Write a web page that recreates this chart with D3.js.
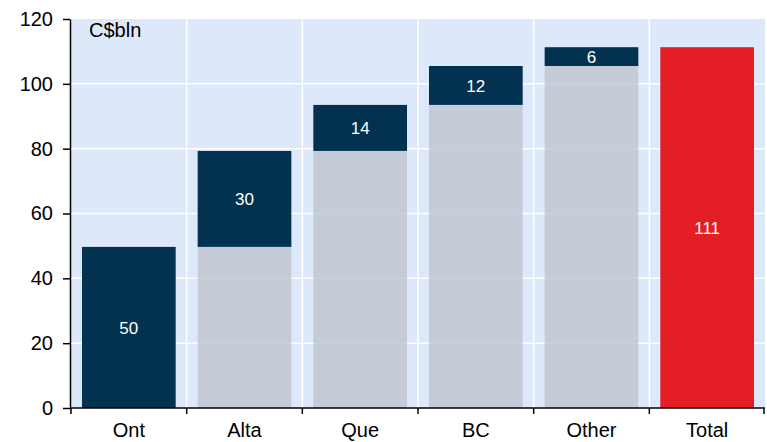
<!DOCTYPE html>
<html>
<head>
<meta charset="utf-8">
<script src="https://cdn.jsdelivr.net/npm/d3@7"></script>
<style>
  body { margin: 0; background: #fff; }
  svg { font-family: "Liberation Sans", Arial, sans-serif; }
</style>
</head>
<body>
<svg id="chart"></svg>
<script>
//Chart data
var categories = ["Ont", "Alta", "Que", "BC", "Other", "Total"];
var increments = [49.7, 29.6, 14.2, 12.0, 5.8];
var totalValue = 111.3;
var yTicks = [0, 20, 40, 60, 80, 100, 120];
var unitLabel = "C$bln";

//Dimensions
var dimensions = {
    width: 767,
    height: 442,
    margin: { top: 19, right: 2, bottom: 34, left: 71 }
};

var svg = d3.select("#chart")
    .attr("width", dimensions.width)
    .attr("height", dimensions.height);

//Scales
var xScale = d3.scaleBand()
    .domain(categories)
    .range([dimensions.margin.left, dimensions.width - dimensions.margin.right])
    .paddingInner(0.19)
    .paddingOuter(0.095);

var yScale = d3.scaleLinear()
    .domain([0, 120])
    .range([dimensions.height - dimensions.margin.bottom, dimensions.margin.top]);

var x0 = dimensions.margin.left;
var x1 = dimensions.width - dimensions.margin.right;

//Background
svg.append("rect")
    .attr("x", x0)
    .attr("y", yScale(120))
    .attr("width", x1 - x0)
    .attr("height", yScale(0) - yScale(120))
    .attr("fill", "#dde9fa");

//Horizontal gridlines
svg.append("g").selectAll("line")
    .data(yTicks.slice(1, -1))
    .join("line")
    .attr("x1", x0)
    .attr("x2", x1)
    .attr("y1", function(d){ return yScale(d); })
    .attr("y2", function(d){ return yScale(d); })
    .attr("stroke", "#fff")
    .attr("stroke-width", 1.5);

//Vertical gridlines at category boundaries
var boundaries = categories.slice(1).map(function(c){
    return xScale(c) - xScale.step() * xScale.paddingInner() / 2;
});
svg.append("g").selectAll("line")
    .data(boundaries)
    .join("line")
    .attr("x1", function(d){ return d; })
    .attr("x2", function(d){ return d; })
    .attr("y1", yScale(0))
    .attr("y2", yScale(120))
    .attr("stroke", "#fff")
    .attr("stroke-width", 1.5);

//Build waterfall segments
var segments = [];
var running = 0;
increments.forEach(function(v, i){
    segments.push({ cat: categories[i], base: running, value: v });
    running += v;
});

//Grey base bars
svg.append("g").selectAll("rect")
    .data(segments.filter(function(d){ return d.base > 0; }))
    .join("rect")
    .attr("x", function(d){ return xScale(d.cat); })
    .attr("width", xScale.bandwidth())
    .attr("y", function(d){ return yScale(d.base); })
    .attr("height", function(d){ return yScale(0) - yScale(d.base); })
    .attr("fill", "#c0c6d0")
    .attr("fill-opacity", 0.82);

//Navy increment bars
svg.append("g").selectAll("rect")
    .data(segments)
    .join("rect")
    .attr("x", function(d){ return xScale(d.cat); })
    .attr("width", xScale.bandwidth())
    .attr("y", function(d){ return yScale(d.base + d.value); })
    .attr("height", function(d){ return yScale(d.base) - yScale(d.base + d.value); })
    .attr("fill", "#02324f");

//Total bar
svg.append("rect")
    .attr("x", xScale("Total"))
    .attr("width", xScale.bandwidth())
    .attr("y", yScale(totalValue))
    .attr("height", yScale(0) - yScale(totalValue))
    .attr("fill", "#e31e24");

//Value labels
var labels = segments.map(function(d){
    return { cat: d.cat, mid: d.base + d.value / 2, text: Math.round(d.value) };
});
labels.push({ cat: "Total", mid: totalValue / 2, text: Math.round(totalValue) });

svg.append("g").selectAll("text")
    .data(labels)
    .join("text")
    .attr("x", function(d){ return xScale(d.cat) + xScale.bandwidth() / 2; })
    .attr("y", function(d){ return yScale(d.mid); })
    .attr("dy", "0.36em")
    .attr("text-anchor", "middle")
    .attr("fill", "#fff")
    .style("font-size", "17px")
    .text(function(d){ return d.text; });

//Y axis
var yAxis = svg.append("g")
    .attr("transform", "translate(" + (x0 - 1) + ",0)")
    .call(d3.axisLeft(yScale).tickValues(yTicks).tickSize(7).tickSizeOuter(0).tickPadding(10));
yAxis.selectAll("text").style("font-size", "20px").attr("fill", "#000");
yAxis.selectAll("line, path").attr("stroke", "#000").attr("stroke-width", 1.5);

//X axis with ticks at band edges
var xAxis = svg.append("g")
    .attr("transform", "translate(0," + yScale(0) + ")");
xAxis.append("line")
    .attr("x1", x0 - 1)
    .attr("x2", x1)
    .attr("stroke", "#000")
    .attr("stroke-width", 1.5);
xAxis.selectAll(".edge")
    .data([x0].concat(boundaries).concat([x1 - 1]))
    .join("line")
    .attr("class", "edge")
    .attr("x1", function(d){ return d; })
    .attr("x2", function(d){ return d; })
    .attr("y1", 0)
    .attr("y2", 6)
    .attr("stroke", "#000")
    .attr("stroke-width", 1.5);
xAxis.selectAll(".cat")
    .data(categories)
    .join("text")
    .attr("class", "cat")
    .attr("x", function(d){ return xScale(d) + xScale.bandwidth() / 2; })
    .attr("y", 29)
    .attr("text-anchor", "middle")
    .style("font-size", "20px")
    .text(function(d){ return d; });

//Unit label
svg.append("text")
    .attr("x", 89)
    .attr("y", 37)
    .style("font-size", "20px")
    .text(unitLabel);
</script>
</body>
</html>
